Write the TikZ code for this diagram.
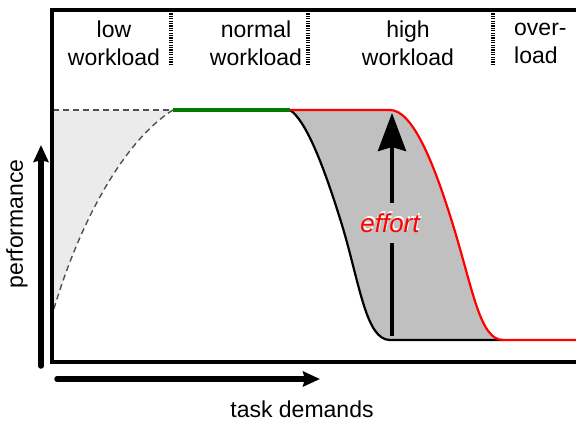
\documentclass[tikz,border=0pt]{standalone}
\usepackage{fontspec}
\setmainfont{Liberation Sans}
\usetikzlibrary{arrows.meta}
\definecolor{effgray}{HTML}{C0C0C0}
\definecolor{hatch}{HTML}{EBEBEB}
\definecolor{dashc}{HTML}{505050}
\definecolor{perfgreen}{HTML}{007A00}
\definecolor{perfred}{HTML}{FF0000}
\begin{document}
\begin{tikzpicture}[x=1pt,y=-1pt,
  lbl/.style={font=\fontsize{23}{28}\selectfont, align=center, inner sep=0pt},
  sepline/.style={line width=3.5pt, dash pattern=on 1.2pt off 1.2pt},
  frameline/.style={line width=4pt, line join=miter},
  dashline/.style={dashc, line width=1.4pt, dash pattern=on 6pt off 4pt},
  curveline/.style={line width=2.2pt},
  bigarrow/.style={line width=5.5pt, line cap=round, -{Stealth[length=17pt,width=15pt,inset=2pt]}},
  effarrow/.style={line width=4pt, -{Stealth[length=38pt,width=28pt,inset=4pt]}}]
\useasboundingbox (0,0) rectangle (576,422);
\clip (0,0) rectangle (576,422);

% coordinates
\coordinate (ftr) at (590,10);
\coordinate (ftl) at (52,10);
\coordinate (fbl) at (52,362);
\coordinate (fbr) at (590,362);
\coordinate (plL) at (53,110);
\coordinate (plA) at (173,110);
\coordinate (plB) at (290,110);
\coordinate (lowend) at (53,312);

% left hatched region
\fill[hatch] (plL) -- (plA) .. controls (125,140) and (80,220) .. (lowend) -- cycle;
\draw[dashline] (plL) -- (plA);
\draw[dashline] (plA) .. controls (125,140) and (80,220) .. (lowend);

% effort region
\fill[effgray] (plB) -- (390,110) .. controls (412,110) and (433,160) .. (453,225)
  .. controls (473,290) and (480,340) .. (503,340) -- (390,340)
  .. controls (366,340) and (360,285) .. (342,225)
  .. controls (322,160) and (305,120) .. (plB) -- cycle;
\draw[curveline, black] (plB) .. controls (305,120) and (322,160) .. (342,225)
  .. controls (360,285) and (366,340) .. (390,340) -- (503,340);
\draw[curveline, perfred] (plB) -- (390,110) .. controls (412,110) and (433,160) .. (453,225)
  .. controls (473,290) and (480,340) .. (503,340) -- (590,340);
\draw[perfgreen, line width=4pt] (plA) -- (plB);

% effort arrow
\node[inner sep=0pt, minimum height=40pt, minimum width=10pt] (efftxt) at (392,223) {};
\coordinate (effbot) at (392,336);
\coordinate (efftop) at (392,113);
\draw[line width=4pt] (effbot) -- (efftxt.south);
\draw[effarrow] (efftxt.north) -- (efftop);
\node[font=\fontsize{26}{30}\selectfont\itshape, text=white, inner sep=0pt] (effw) at (391.3,221.7) {effort};
\node[font=\fontsize{26}{30}\selectfont\itshape, text=perfred, inner sep=0pt] (eff) at (390,223) {effort};

% frame
\draw[frameline] (ftr) -- (ftl) -- (fbl) -- (fbr);

% separators
\coordinate (s1t) at (171,11); \coordinate (s1b) at (171,65);
\coordinate (s2t) at (308,11); \coordinate (s2b) at (308,65);
\coordinate (s3t) at (493,11); \coordinate (s3b) at (493,65);
\draw[sepline] (s1t) -- (s1b);
\draw[sepline] (s2t) -- (s2b);
\draw[sepline] (s3t) -- (s3b);

% labels
\node[lbl] (low) at (114,43) {low\\workload};
\node[lbl] (normal) at (256,43) {normal\\workload};
\node[lbl] (high) at (408,43) {high\\workload};
\node[lbl, anchor=west, align=left] (over) at (514,43) {over-\\load};

% axes
\coordinate (pbot) at (41,366);
\coordinate (ptop) at (41,145);
\draw[bigarrow] (pbot) -- (ptop);
\node[lbl, rotate=90] (perf) at (17,224) {performance};
\coordinate (tl) at (57,379);
\coordinate (tr) at (320,379);
\draw[bigarrow] (tl) -- (tr);
\node[lbl] (task) at (302,409) {task demands};
\end{tikzpicture}
\end{document}
